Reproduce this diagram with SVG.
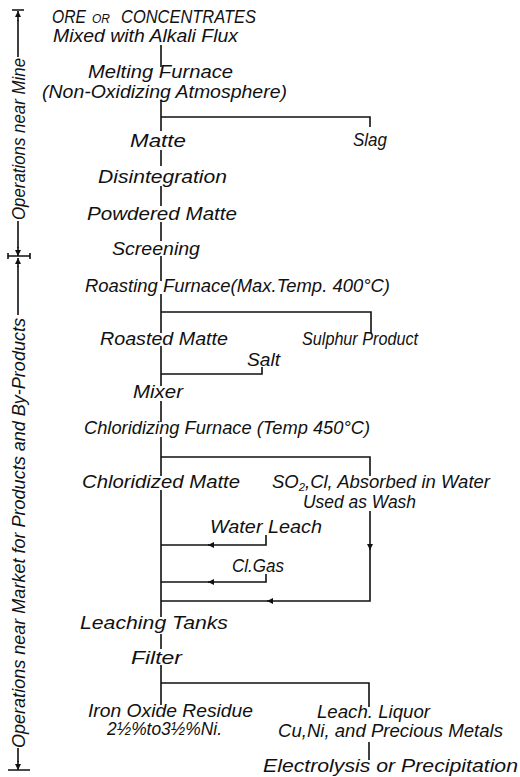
<svg xmlns="http://www.w3.org/2000/svg" width="520" height="777" viewBox="0 0 520 777">
<defs>
<style>
.t{font-family:"Liberation Sans",Arial,sans-serif;font-style:italic;font-size:18px;fill:#111}
.s{font-size:13px}
.sub{font-size:11px}
.ln{stroke:#111;stroke-width:1.6;fill:none}
</style>
<marker id="arr" viewBox="0 0 10 10" refX="10" refY="5" markerWidth="9" markerHeight="6" markerUnits="userSpaceOnUse" orient="auto"><path d="M0,0L10,5L0,10Z" fill="#111"/></marker>
</defs>
<rect width="520" height="777" fill="#fff"/>
<g id="scale">
<path class="ln" d="M12,10H24M8,256H30M8,253V259M30,253V259M8,770H30M18,20V57M18,221V248M18,266V315M18,748V762"/>
<path class="ln" d="M18,21V11" marker-end="url(#arr)"/>
<path class="ln" d="M18,247V256" marker-end="url(#arr)"/>
<path class="ln" d="M18,267V258" marker-end="url(#arr)"/>
<path class="ln" d="M18,761V770" marker-end="url(#arr)"/>
<text class="t" transform="translate(24.5,220) rotate(-90)" textLength="162" lengthAdjust="spacingAndGlyphs">Operations near Mine</text>
<text class="t" transform="translate(24.5,748) rotate(-90)" textLength="430" lengthAdjust="spacingAndGlyphs">Operations near Market for Products and By-Products</text>
</g>
<g id="connectors">
<path class="ln" d="M161,45V67M161,100V131M161,150V166M161,186V206M161,222V241M161,256V281M161,294V333M161,346V386M161,401V422M161,437V476M161,490V617M161,634V649M161,665V705"/>
<path class="ln" d="M161,117H370V127"/>
<path class="ln" d="M161,312H371V333"/>
<path class="ln" d="M161,374H262V367"/>
<path class="ln" d="M161,457H370V476"/>
<path class="ln" d="M370,511V550" marker-end="url(#arr)"/>
<path class="ln" d="M370,549V601H267" marker-end="url(#arr)"/>
<path class="ln" d="M268,601H161"/>
<path class="ln" d="M266,535V545H208" marker-end="url(#arr)"/>
<path class="ln" d="M209,545H161"/>
<path class="ln" d="M266,574V582H208" marker-end="url(#arr)"/>
<path class="ln" d="M209,582H161"/>
<path class="ln" d="M161,683H369V707"/>
<path class="ln" d="M369,742V760"/>
</g>
<g id="ore"><text class="t" x="52" y="23" textLength="34" lengthAdjust="spacingAndGlyphs">ORE</text>
<text class="t s" x="92" y="23" textLength="18" lengthAdjust="spacingAndGlyphs">OR</text>
<text class="t" x="121" y="23" textLength="135" lengthAdjust="spacingAndGlyphs">CONCENTRATES</text>
<text class="t" x="53" y="42" textLength="185" lengthAdjust="spacingAndGlyphs">Mixed with Alkali Flux</text></g>
<g id="melting"><text class="t" x="88" y="78" textLength="145" lengthAdjust="spacingAndGlyphs">Melting Furnace</text>
<text class="t" x="42" y="98" textLength="245" lengthAdjust="spacingAndGlyphs">(Non-Oxidizing Atmosphere)</text></g>
<g id="matte"><text class="t" x="130" y="147" textLength="56" lengthAdjust="spacingAndGlyphs">Matte</text></g>
<g id="slag"><text class="t" x="353" y="146" textLength="34" lengthAdjust="spacingAndGlyphs">Slag</text></g>
<g id="disintegration"><text class="t" x="98" y="183" textLength="129" lengthAdjust="spacingAndGlyphs">Disintegration</text></g>
<g id="powdered"><text class="t" x="87" y="220" textLength="150" lengthAdjust="spacingAndGlyphs">Powdered Matte</text></g>
<g id="screening"><text class="t" x="112" y="255" textLength="88" lengthAdjust="spacingAndGlyphs">Screening</text></g>
<g id="roasting"><text class="t" x="85" y="292" textLength="305" lengthAdjust="spacingAndGlyphs">Roasting Furnace(Max.Temp. 400°C)</text></g>
<g id="roasted"><text class="t" x="100" y="345" textLength="128" lengthAdjust="spacingAndGlyphs">Roasted Matte</text></g>
<g id="sulphur"><text class="t" x="302" y="345" textLength="116" lengthAdjust="spacingAndGlyphs">Sulphur Product</text></g>
<g id="salt"><text class="t" x="247" y="366" textLength="33" lengthAdjust="spacingAndGlyphs">Salt</text></g>
<g id="mixer"><text class="t" x="133" y="398" textLength="50" lengthAdjust="spacingAndGlyphs">Mixer</text></g>
<g id="chloridizing"><text class="t" x="84" y="434" textLength="286" lengthAdjust="spacingAndGlyphs">Chloridizing Furnace (Temp 450°C)</text></g>
<g id="chloridized"><text class="t" x="82" y="488" textLength="158" lengthAdjust="spacingAndGlyphs">Chloridized Matte</text></g>
<g id="so2"><text class="t" x="272" y="488" textLength="218" lengthAdjust="spacingAndGlyphs">SO<tspan class="sub" dy="3">2</tspan><tspan dy="-3">,Cl, Absorbed in Water</tspan></text>
<text class="t" x="303" y="508" textLength="113" lengthAdjust="spacingAndGlyphs">Used as Wash</text></g>
<g id="waterleach"><text class="t" x="210" y="533" textLength="112" lengthAdjust="spacingAndGlyphs">Water Leach</text></g>
<g id="clgas"><text class="t" x="232" y="572" textLength="52" lengthAdjust="spacingAndGlyphs">Cl.Gas</text></g>
<g id="leaching"><text class="t" x="80" y="629" textLength="148" lengthAdjust="spacingAndGlyphs">Leaching Tanks</text></g>
<g id="filter"><text class="t" x="131" y="664" textLength="51" lengthAdjust="spacingAndGlyphs">Filter</text></g>
<g id="residue"><text class="t" x="88" y="717" textLength="165" lengthAdjust="spacingAndGlyphs">Iron Oxide Residue</text>
<text class="t" x="107" y="735" textLength="115" lengthAdjust="spacingAndGlyphs">2½%to3½%Ni.</text></g>
<g id="liquor"><text class="t" x="317" y="718" textLength="113" lengthAdjust="spacingAndGlyphs">Leach. Liquor</text>
<text class="t" x="278" y="737" textLength="225" lengthAdjust="spacingAndGlyphs">Cu,Ni, and Precious Metals</text></g>
<g id="electrolysis"><text class="t" x="263" y="772" textLength="255" lengthAdjust="spacingAndGlyphs">Electrolysis or Precipitation</text></g>
</svg>
